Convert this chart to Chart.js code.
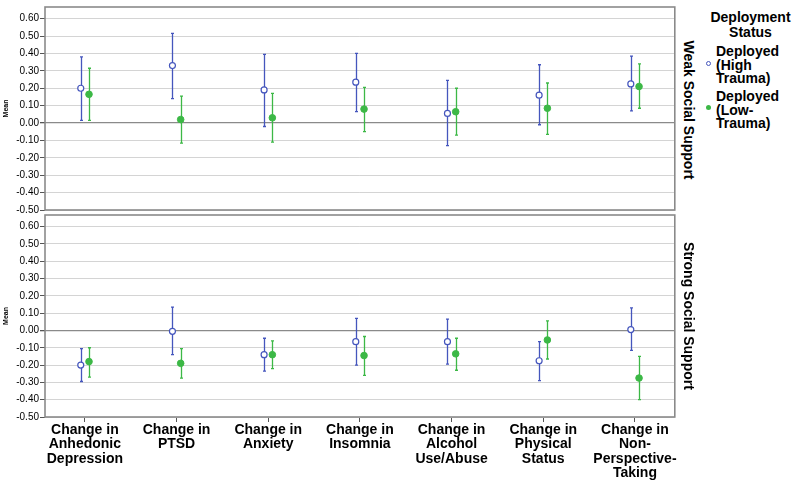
<!DOCTYPE html>
<html>
<head>
<meta charset="utf-8">
<script src="https://cdn.jsdelivr.net/npm/chart.js@4.4.1/dist/chart.umd.min.js"></script>
<style>
  html, body { margin:0; padding:0; background:#fff; }
  body { width:800px; height:485px; position:relative; overflow:hidden; font-family:"Liberation Sans", Arial, sans-serif; }
  canvas { position:absolute; left:0; }
  #cTop { top:0; }
  #cBot { top:208px; }
  .side { position:absolute; font-weight:bold; font-size:14px; white-space:nowrap; color:#000;
          transform:translate(-50%,-50%) rotate(90deg); }
  .leg { position:absolute; font-weight:bold; font-size:14px; line-height:13.5px; color:#000; }
  .mk { position:absolute; width:5px; height:5px; border-radius:50%; box-sizing:border-box; }
</style>
</head>
<body>
<canvas id="cTop" width="680" height="230"></canvas>
<canvas id="cBot" width="680" height="277"></canvas>

<div class="side" style="left:689px; top:110px;">Weak Social Support</div>
<div class="side" style="left:689px; top:316px;">Strong Social Support</div>

<div class="leg" style="left:700px; top:10px; width:101px; text-align:center; line-height:14.5px;">Deployment<br>Status</div>
<div class="mk" style="left:705.5px; top:60.5px; border:1.2px solid #4556bd; background:#fff;"></div>
<div class="leg" style="left:716px; top:45px;">Deployed<br>(High<br>Trauma)</div>
<div class="mk" style="left:705.5px; top:104.5px; background:#3cb846;"></div>
<div class="leg" style="left:716px; top:90px;">Deployed<br>(Low-<br>Trauma)</div>

<script>
// ---- data ----
const categories = [
  ["Change in","Anhedonic","Depression"],
  ["Change in","PTSD"],
  ["Change in","Anxiety"],
  ["Change in","Insomnia"],
  ["Change in","Alcohol","Use/Abuse"],
  ["Change in","Physical","Status"],
  ["Change in","Non-","Perspective-","Taking"]
];
const seriesNames = ["Deployed (High Trauma)", "Deployed (Low-Trauma)"];
const yTickValues = [-0.5,-0.4,-0.3,-0.2,-0.1,0,0.1,0.2,0.3,0.4,0.5,0.6];

// Weak Social Support panel
const weakHighMean = [0.20, 0.33, 0.19, 0.235, 0.055, 0.16, 0.225];
const weakHighLow  = [0.015, 0.14, -0.02, 0.065, -0.13, -0.01, 0.07];
const weakHighHigh = [0.38, 0.515, 0.395, 0.40, 0.245, 0.335, 0.385];
const weakLowMean  = [0.165, 0.02, 0.03, 0.08, 0.065, 0.085, 0.21];
const weakLowLow   = [0.015, -0.115, -0.11, -0.05, -0.07, -0.065, 0.085];
const weakLowHigh  = [0.315, 0.155, 0.17, 0.205, 0.20, 0.23, 0.34];

// Strong Social Support panel
const strongHighMean = [-0.20, -0.005, -0.14, -0.065, -0.065, -0.175, 0.005];
const strongHighLow  = [-0.295, -0.14, -0.235, -0.20, -0.195, -0.29, -0.115];
const strongHighHigh = [-0.105, 0.135, -0.045, 0.07, 0.065, -0.065, 0.13];
const strongLowMean  = [-0.18, -0.19, -0.14, -0.145, -0.135, -0.055, -0.275];
const strongLowLow   = [-0.27, -0.275, -0.22, -0.26, -0.23, -0.165, -0.40];
const strongLowHigh  = [-0.10, -0.105, -0.06, -0.035, -0.045, 0.055, -0.15];

// ---- styles ----
const BLUE = '#4556bd';
const GREEN = '#3cb846';
const OFF = 0.045;

function pts(mean, low, high, off) {
  return mean.map((m, i) => ({ x: i + off, y: m, lo: low[i], hi: high[i] }));
}

const errorBars = {
  id: 'errorBars',
  beforeDatasetsDraw(chart) {
    const { ctx, scales: { x, y } } = chart;
    chart.data.datasets.forEach(ds => {
      ctx.save();
      ctx.strokeStyle = ds.borderColor;
      ctx.lineWidth = 1.3;
      ds.data.forEach(p => {
        const px = Math.round(x.getPixelForValue(p.x)) + 0.5;
        const yl = y.getPixelForValue(p.lo), yh = y.getPixelForValue(p.hi);
        ctx.beginPath();
        ctx.moveTo(px, yl); ctx.lineTo(px, yh);
        ctx.moveTo(px - 1.5, yl); ctx.lineTo(px + 1.5, yl);
        ctx.moveTo(px - 1.5, yh); ctx.lineTo(px + 1.5, yh);
        ctx.stroke();
      });
      ctx.restore();
    });
  }
};

const frame = {
  id: 'frame',
  afterDraw(chart) {
    const { ctx, chartArea: a } = chart;
    ctx.save();
    ctx.strokeStyle = '#8a8a8a';
    ctx.lineWidth = 1.6;
    ctx.strokeRect(a.left, a.top, a.right - a.left, a.bottom - a.top);
    ctx.restore();
  }
};

function makeChart(id, highMean, highLow, highHigh, lowMean, lowLow, lowHigh, showX) {
  return new Chart(document.getElementById(id), {
    type: 'scatter',
    data: {
      datasets: [
        { label: seriesNames[0], data: pts(highMean, highLow, highHigh, -OFF),
          borderColor: BLUE, backgroundColor: '#fff', pointRadius: 3, pointBorderWidth: 1.2, pointStyle: 'circle' },
        { label: seriesNames[1], data: pts(lowMean, lowLow, lowHigh, OFF),
          borderColor: GREEN, backgroundColor: GREEN, pointRadius: 3.3, pointBorderWidth: 1, pointStyle: 'circle' }
      ]
    },
    options: {
      responsive: false,
      animation: false,
      devicePixelRatio: 1,
      layout: { padding: { top: showX ? 6 : 7, bottom: showX ? 0 : 20, left: 0, right: 3 } },
      plugins: { legend: { display: false }, tooltip: { enabled: false } },
      scales: {
        x: {
          type: 'linear',
          display: showX,
          min: -0.435, max: 6.435,
          afterBuildTicks: s => { s.ticks = categories.map((c, i) => ({ value: i })); },
          afterFit: s => { if (showX) s.height = 68; },
          grid: { drawOnChartArea: false, drawTicks: true, tickLength: 5, color: '#555', tickColor: '#555' },
          border: { display: false },
          ticks: {
            stepSize: 1, autoSkip: false, maxRotation: 0, minRotation: 0, padding: 1,
            color: '#000',
            font: { family: '"Liberation Sans", Arial, sans-serif', size: 14, weight: 'bold', lineHeight: 1.03 },
            callback: v => categories[v]
          }
        },
        y: {
          min: -0.5, max: 0.667,
          afterBuildTicks: s => { s.ticks = yTickValues.map(v => ({ value: v })); },
          afterFit: s => { s.width = 45; },
          grid: {
            color: c => (c.tick && c.tick.value === 0) ? '#8a8a8a' : '#d4d4d4',
            lineWidth: c => (c.tick && c.tick.value === 0) ? 1.3 : 1,
            tickColor: '#555', tickLength: 5
          },
          border: { display: false },
          ticks: {
            stepSize: 0.1, padding: 1, color: '#000', autoSkip: false,
            font: { family: '"Liberation Sans", Arial, sans-serif', size: 10 },
            callback: v => Number(v).toFixed(2)
          },
          title: {
            display: true, text: 'Mean', color: '#000', padding: { top: 2, bottom: 0 },
            font: { family: '"Liberation Sans", Arial, sans-serif', size: 7, weight: 'bold' }
          }
        }
      }
    },
    plugins: [errorBars, frame]
  });
}

makeChart('cTop', weakHighMean, weakHighLow, weakHighHigh, weakLowMean, weakLowLow, weakLowHigh, false);
makeChart('cBot', strongHighMean, strongHighLow, strongHighHigh, strongLowMean, strongLowLow, strongLowHigh, true);
</script>
</body>
</html>
